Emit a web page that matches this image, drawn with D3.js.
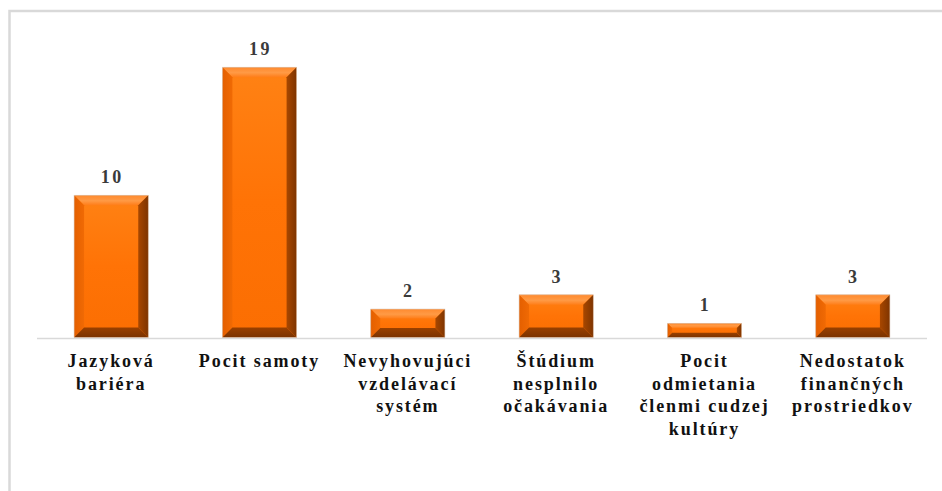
<!DOCTYPE html>
<html>
<head>
<meta charset="utf-8">
<script src="https://cdn.jsdelivr.net/npm/d3@7"></script>
<style>
  html, body { margin: 0; padding: 0; background: #fff; }
  svg { display: block; }
</style>
</head>
<body>
<svg id="chart" width="942" height="491"></svg>
<script>
// Reasons for difficulties during study abroad (number of responses)
const categories = [
  "Jazyková\nbariéra",
  "Pocit samoty",
  "Nevyhovujúci\nvzdelávací\nsystém",
  "Štúdium\nnesplnilo\nočakávania",
  "Pocit\nodmietania\nčlenmi cudzej\nkultúry",
  "Nedostatok\nfinančných\nprostriedkov"
];
const counts = [10, 19, 2, 3, 1, 3];

const svg = d3.select("#chart");

// outer frame of the chart area
svg.append("rect")
  .attr("x", 9.5).attr("y", 11)
  .attr("width", 1200).attr("height", 1000)
  .attr("fill", "none")
  .attr("stroke", "#d9d9d9")
  .attr("stroke-width", 2.5);

const x = d3.scaleBand()
  .domain(categories)
  .range([37, 927])
  .paddingInner(0.5)
  .paddingOuter(0.25);

const y = d3.scaleLinear()
  .domain([0, 20])
  .range([337.5, 53]);

// gradients for the bevelled faces
const defs = svg.append("defs");
function lin(id, stops, x1, y1, x2, y2) {
  const g = defs.append("linearGradient").attr("id", id)
    .attr("x1", x1).attr("y1", y1).attr("x2", x2).attr("y2", y2);
  stops.forEach(s => g.append("stop").attr("offset", s[0]).attr("stop-color", s[1]));
}
lin("gFace", [[0, "#ff8214"], [0.5, "#ff7306"], [1, "#fb6e02"]], 0, 0, 0, 1);
lin("gTop", [[0, "#ff8a2e"], [0.55, "#ff9a45"], [1, "#ff7d18"]], 0, 0, 0, 1);
lin("gLeft", [[0, "#e45f00"], [1, "#f06a04"]], 0, 0, 1, 0);
lin("gRight", [[0, "#a84700"], [1, "#7e3400"]], 0, 0, 1, 0);
lin("gBottom", [[0, "#9a4000"], [1, "#7a3200"]], 0, 0, 0, 1);

const bars = svg.append("g").selectAll("g.bar")
  .data(categories.map((c, i) => ({ c, v: counts[i] })))
  .join("g").attr("class", "bar");

bars.each(function(d) {
  const g = d3.select(this);
  const x0 = x(d.c), x1 = x0 + x.bandwidth();
  const y0 = y(d.v), y1 = y(0);
  const b = Math.min(10, (y1 - y0) / 3);
  const pts = a => a.map(p => p.join(",")).join(" ");
  // face
  g.append("rect").attr("x", x0).attr("y", y0)
    .attr("width", x1 - x0).attr("height", y1 - y0)
    .attr("fill", "url(#gFace)");
  // top bevel
  g.append("polygon").attr("points", pts([[x0, y0], [x1, y0], [x1 - b, y0 + b], [x0 + b, y0 + b]]))
    .attr("fill", "url(#gTop)");
  // left bevel
  g.append("polygon").attr("points", pts([[x0, y0], [x0 + b, y0 + b], [x0 + b, y1 - b], [x0, y1]]))
    .attr("fill", "url(#gLeft)");
  // right bevel
  g.append("polygon").attr("points", pts([[x1, y0], [x1, y1], [x1 - b, y1 - b], [x1 - b, y0 + b]]))
    .attr("fill", "url(#gRight)");
  // bottom bevel
  g.append("polygon").attr("points", pts([[x0, y1], [x0 + b, y1 - b], [x1 - b, y1 - b], [x1, y1]]))
    .attr("fill", "url(#gBottom)");
  // thin outline
  g.append("rect").attr("x", x0).attr("y", y0)
    .attr("width", x1 - x0).attr("height", y1 - y0)
    .attr("fill", "none").attr("stroke", "#d8c8bc").attr("stroke-width", 0.6);
});

// category axis line
svg.append("line")
  .attr("x1", 37).attr("x2", 927)
  .attr("y1", 338.5).attr("y2", 338.5)
  .attr("stroke", "#d9d9d9").attr("stroke-width", 1.5);

// value labels
svg.append("g").selectAll("text")
  .data(categories.map((c, i) => ({ c, v: counts[i] })))
  .join("text")
  .attr("x", d => x(d.c) + x.bandwidth() / 2 + 1)
  .attr("y", d => y(d.v) - 12)
  .attr("text-anchor", "middle")
  .attr("font-family", "'Liberation Serif', 'Times New Roman', serif")
  .attr("font-weight", "bold")
  .attr("font-size", 18)
  .attr("letter-spacing", 2.5)
  .attr("fill", "#3a3a3a")
  .text(d => d.v);

// category labels
const lab = svg.append("g").selectAll("text")
  .data(categories)
  .join("text")
  .attr("x", d => x(d) + x.bandwidth() / 2)
  .attr("y", 367)
  .attr("text-anchor", "middle")
  .attr("font-family", "'Liberation Serif', 'Times New Roman', serif")
  .attr("font-weight", "bold")
  .attr("font-size", 18)
  .attr("letter-spacing", 1.9)
  .attr("fill", "#111111");
lab.each(function(d) {
  const t = d3.select(this);
  d.split("\n").forEach((line, i) => {
    t.append("tspan")
      .attr("x", x(d) + x.bandwidth() / 2)
      .attr("dy", i === 0 ? 0 : 22.5)
      .text(line);
  });
});
</script>
</body>
</html>
